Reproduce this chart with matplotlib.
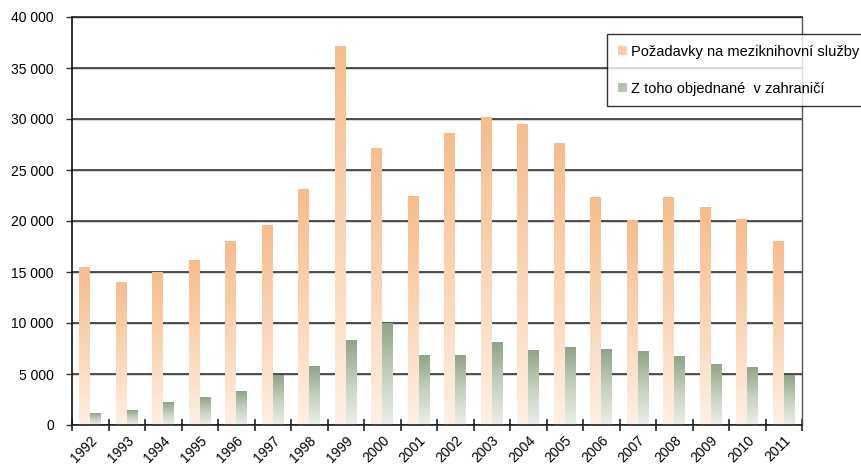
import numpy as np
import matplotlib
matplotlib.use("Agg")
import matplotlib.pyplot as plt
from matplotlib.colors import LinearSegmentedColormap
from matplotlib.patches import Patch
import matplotlib.patheffects as pe

plt.rcParams['font.family'] = ['Liberation Sans', 'DejaVu Sans']

years = ["1992", "1993", "1994", "1995", "1996", "1997", "1998", "1999", "2000", "2001",
         "2002", "2003", "2004", "2005", "2006", "2007", "2008", "2009", "2010", "2011"]
pozadavky = [15400, 14000, 15000, 16100, 17950, 19550, 23050, 37150, 27150, 22450,
             28530, 30100, 29500, 27550, 22350, 20000, 22350, 21280, 20100, 17950]
zahranici = [1080, 1470, 2160, 2650, 3240, 4840, 5780, 8330, 9980, 6860,
             6860, 8040, 7350, 7550, 7450, 7250, 6670, 5980, 5590, 4830]
label_a = "Požadavky na meziknihovní služby"
label_b = "Z toho objednané  v zahraničí"
yticks = [0, 5000, 10000, 15000, 20000, 25000, 30000, 35000, 40000]
yticklabels = ["0", "5 000", "10 000", "15 000", "20 000", "25 000", "30 000", "35 000", "40 000"]

cmap_a = LinearSegmentedColormap.from_list("a", ["#FEF0E5", "#FBD5B5", "#F6BD8C"])
cmap_b = LinearSegmentedColormap.from_list("b", ["#ECEFE9", "#C6D0C0", "#8FA485"])

fig = plt.figure(figsize=(8.61, 4.67), dpi=100)
ax = fig.add_axes([72/861, 42/467, 730/861, 408/467])

x = np.arange(len(years))
w = 0.30
bars_a = ax.bar(x - w/2, pozadavky, w, color='none', linewidth=0, zorder=3)
bars_b = ax.bar(x + w/2, zahranici, w, color='none', linewidth=0, zorder=3)

grad = np.linspace(0, 1, 256).reshape(-1, 1)
for bars, cm in ((bars_a, cmap_a), (bars_b, cmap_b)):
    for r in bars:
        x0 = r.get_x()
        x1 = x0 + r.get_width()
        h = r.get_height()
        ax.imshow(grad, extent=[x0, x1, 0, h], origin='lower', aspect='auto',
                  cmap=cm, zorder=2, interpolation='bilinear')

ax.set_xlim(-0.5, len(years) - 0.5)
ax.set_ylim(0, 40000)
ax.set_aspect('auto')

ax.set_yticks(yticks)
ax.set_yticklabels(yticklabels, fontsize=10)
ax.tick_params(axis='y', length=4, width=1, pad=9, direction='out', color='#333333')

ax.set_xticks(np.arange(-0.5, len(years), 1.0))
ax.set_xticklabels([])
ax.tick_params(axis='x', which='major', length=8, width=1.2, direction='inout', color='#222222')
ax.set_xticks(x, minor=True)
ax.set_xticklabels(years, minor=True, rotation=45, ha='right', va='top',
                   rotation_mode='anchor', fontsize=10)
ax.tick_params(axis='x', which='minor', length=0, pad=6)

ax.set_axisbelow(True)
ax.yaxis.grid(True, color='#222222', linewidth=1.1,
              path_effects=[pe.SimpleLineShadow(offset=(0, -1.0), shadow_color='#999999', alpha=0.5),
                            pe.Normal()])
ax.xaxis.grid(False)

ax.spines['left'].set_color('#111111')
ax.spines['left'].set_linewidth(1.2)
ax.spines['bottom'].set_color('#222222')
ax.spines['bottom'].set_linewidth(1.2)
ax.spines['right'].set_color('#555555')
ax.spines['right'].set_linewidth(1.0)
ax.spines['top'].set_color('#222222')
ax.spines['top'].set_linewidth(1.2)

handles = [Patch(facecolor='#F9CDA8', edgecolor='none', label=label_a),
           Patch(facecolor='#B7C4B0', edgecolor='none', label=label_b)]
leg = fig.legend(handles=handles, loc='upper left', bbox_to_anchor=(607/861, 1 - 34/467),
                 fontsize=10.5, frameon=True, fancybox=False, shadow=False,
                 borderpad=0.75, labelspacing=1.55, handlelength=0.65, handleheight=0.6,
                 handletextpad=0.25, borderaxespad=0)
leg.get_frame().set_edgecolor('black')
leg.get_frame().set_linewidth(1.0)

fig.savefig("out.png", dpi=100, facecolor='white')
